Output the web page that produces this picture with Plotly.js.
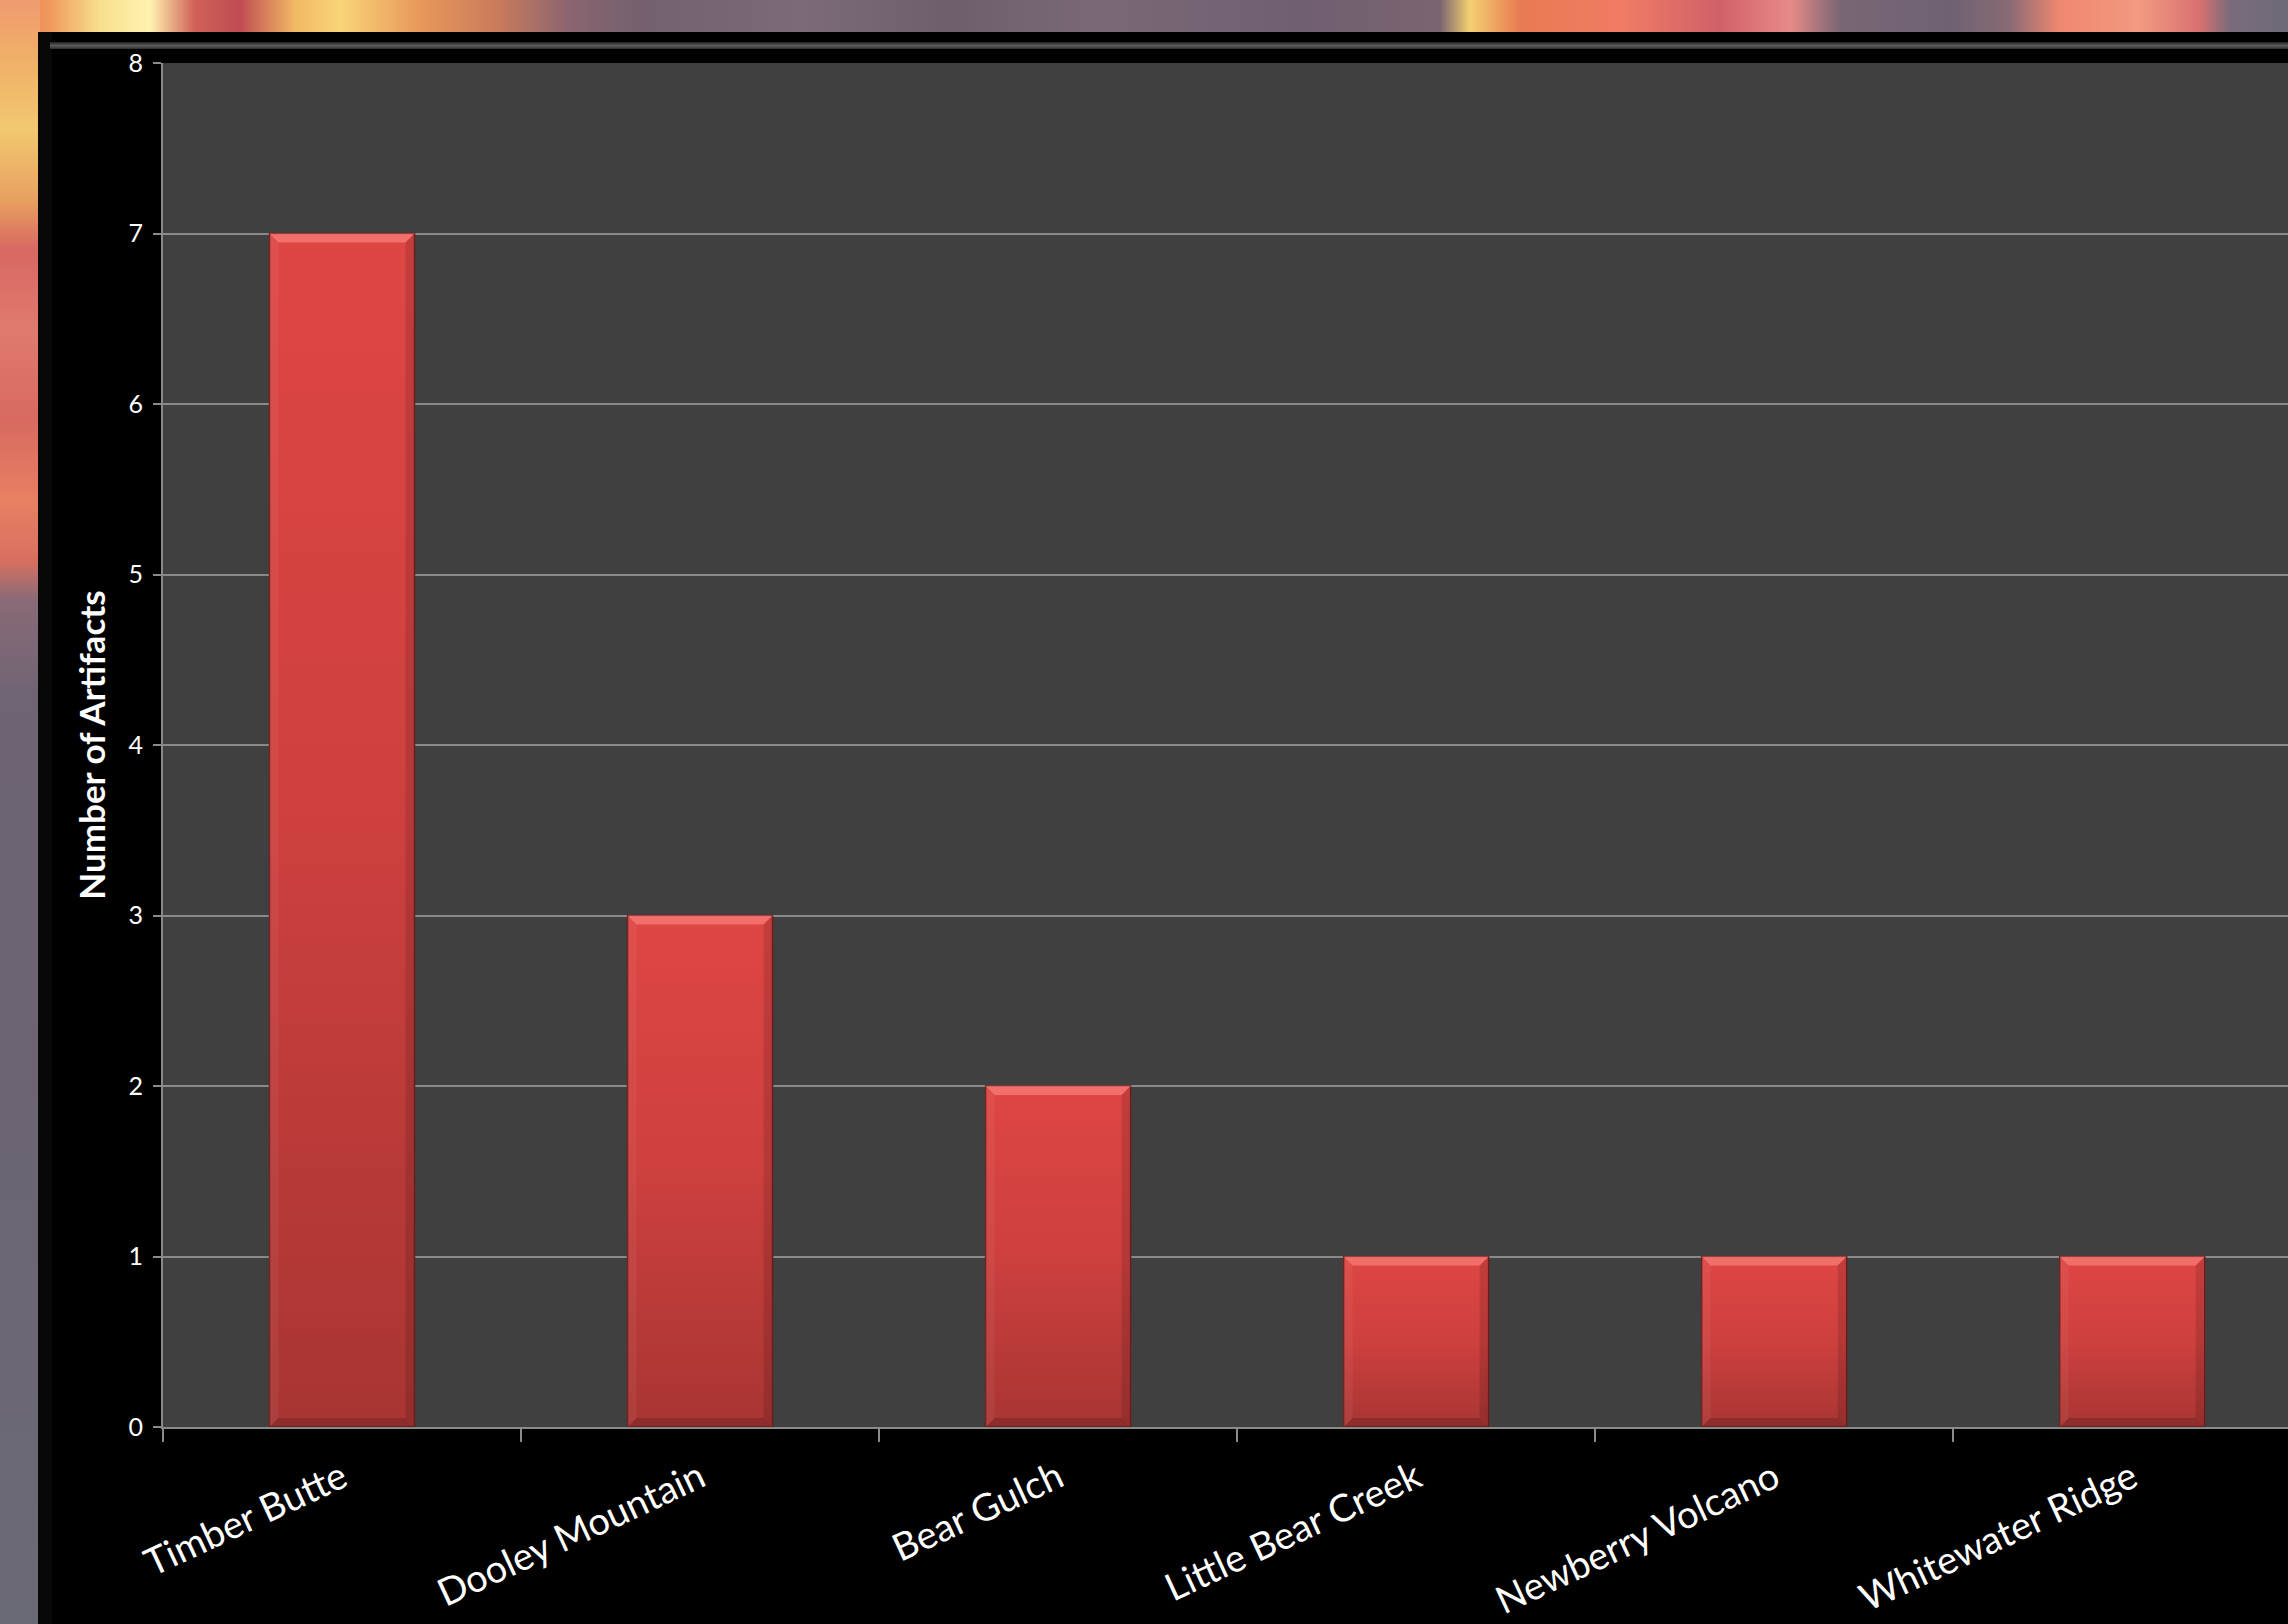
<!DOCTYPE html>
<html>
<head>
<meta charset="utf-8">
<script src="https://cdn.plot.ly/plotly-3.0.1.min.js"></script>
<style>
html,body{margin:0;padding:0;width:2288px;height:1624px;overflow:hidden;background:#6c6672;}
#bgTop{position:absolute;left:0;top:0;width:2288px;height:40px;
 background:linear-gradient(90deg,#ec7050 0px,#f09a5c 50px,#f8e08c 100px,#fff2b0 150px,#d06058 195px,#c04c52 240px,#f2b864 295px,#f8d478 340px,#e8985a 420px,#c87a5c 500px,#8a6470 570px,#74606e 640px,#7c6a78 800px,#6e5e6c 950px,#7a6876 1100px,#705f70 1300px,#7a6470 1440px,#f4d070 1470px,#e87a52 1520px,#f07c64 1620px,#d06068 1720px,#e88a88 1790px,#7a6674 1840px,#6e6272 1950px,#8a6a74 2010px,#f08870 2060px,#f29a80 2140px,#d87070 2200px,#7a6c7a 2230px,#6e6a78 2288px);}
#bgLeft{position:absolute;left:0;top:0;width:40px;height:1624px;
 background:linear-gradient(180deg,#f09a70 0px,#f0b068 60px,#f2c870 130px,#e8a060 200px,#d86862 250px,#e07a6e 330px,#d86a60 420px,#e88062 500px,#d87060 560px,#8a6a78 600px,#6e6472 700px,#6c6470 1000px,#6a6a76 1624px);}
#panel{position:absolute;left:38px;top:32px;width:2250px;height:1592px;background:#000;}
#strip{position:absolute;left:38px;top:32px;width:14px;height:1592px;background:#080808;}
#bevel{position:absolute;left:50px;top:42px;width:2238px;height:7px;
 background:linear-gradient(180deg,#1e1e1e 0%,#4a4a4a 35%,#5a5a5a 55%,#2c2c2c 100%);}
#chart{position:absolute;left:0;top:0;width:2288px;height:1624px;}
</style>
</head>
<body>
<div id="bgTop"></div>
<div id="bgLeft"></div>
<div id="panel"></div>
<div id="strip"></div>
<div id="bevel"></div>
<div id="chart"></div>
<script>
// ---- data ----
const categories = ['Timber Butte', 'Dooley Mountain', 'Bear Gulch', 'Little Bear Creek', 'Newberry Volcano', 'Whitewater Ridge'];
const artifactCounts = [7, 3, 2, 1, 1, 1];
const yTickValues = [0, 1, 2, 3, 4, 5, 6, 7, 8];
const yTickLabels = ['0', '1', '2', '3', '4', '5', '6', '7', '8'];
const yAxisTitle = 'Number of Artifacts';

const trace = {
  type: 'bar',
  x: categories,
  y: artifactCounts,
  marker: { color: '#c73e3c', line: { color: '#6e2220', width: 1.5 } },
  hoverinfo: 'none'
};

const gray = '#8a8a8a';
const layout = {
  width: 2288, height: 1624,
  margin: { l: 163, r: 0, t: 63, b: 197, autoexpand: false },
  paper_bgcolor: 'rgba(0,0,0,0)',
  plot_bgcolor: '#404040',
  bargap: 0.595,
  showlegend: false,
  font: { family: 'Lato, "Open Sans", sans-serif', color: '#ffffff' },
  xaxis: {
    type: 'category',
    range: [-0.5, 5.435],
    tickson: 'boundaries',
    ticks: 'outside', ticklen: 13, tickwidth: 2, tickcolor: gray,
    showline: true, linecolor: gray, linewidth: 2,
    showgrid: false, zeroline: false,
    tickangle: -25,
    ticklabelstandoff: 12,
    tickfont: { size: 38, color: '#ffffff' },
    fixedrange: true
  },
  yaxis: {
    range: [0, 8],
    tickvals: yTickValues, ticktext: yTickLabels,
    ticks: 'outside', ticklen: 8, tickwidth: 2, tickcolor: gray,
    showline: true, linecolor: gray, linewidth: 2,
    showgrid: true, gridcolor: gray, gridwidth: 2,
    zeroline: false,
    ticklabelstandoff: 5,
    tickfont: { size: 25, color: '#ffffff' },
    title: { text: yAxisTitle, font: { size: 35, weight: 'bold', color: '#ffffff' }, standoff: 12 },
    fixedrange: true
  }
};

Plotly.newPlot('chart', [trace], layout, { staticPlot: true, displayModeBar: false }).then(function (gd) {
  const ns = 'http://www.w3.org/2000/svg';
  const svg = gd.querySelector('svg.main-svg');
  let defs = svg.querySelector('defs');
  const lg = document.createElementNS(ns, 'linearGradient');
  lg.setAttribute('id', 'barGrad');
  lg.setAttribute('x1', '0'); lg.setAttribute('y1', '0');
  lg.setAttribute('x2', '0'); lg.setAttribute('y2', '1');
  [['0', '#de4644'], ['0.5', '#cd403e'], ['1', '#a83533']].forEach(function (s) {
    const st = document.createElementNS(ns, 'stop');
    st.setAttribute('offset', s[0]); st.setAttribute('stop-color', s[1]);
    lg.appendChild(st);
  });
  defs.appendChild(lg);
  gd.querySelectorAll('.barlayer .point path').forEach(function (p) {
    p.style.fill = 'url(#barGrad)';
    const b = p.getBBox();
    const x = b.x, y = b.y, w = b.width, h = b.height, d = 9;
    const g = p.parentNode;
    function poly(pts, fill, op) {
      const el = document.createElementNS(ns, 'polygon');
      el.setAttribute('points', pts.map(function (q) { return q[0] + ',' + q[1]; }).join(' '));
      el.setAttribute('fill', fill);
      el.setAttribute('fill-opacity', op);
      g.appendChild(el);
    }
    poly([[x, y], [x + w, y], [x + w - d, y + d], [x + d, y + d]], '#ff8a86', 0.6);
    poly([[x, y], [x + d, y + d], [x + d, y + h - d], [x, y + h]], '#ffffff', 0.05);
    poly([[x + w, y], [x + w, y + h], [x + w - d, y + h - d], [x + w - d, y + d]], '#000000', 0.12);
    poly([[x, y + h], [x + d, y + h - d], [x + w - d, y + h - d], [x + w, y + h]], '#000000', 0.16);
  });
});
</script>
</body>
</html>
